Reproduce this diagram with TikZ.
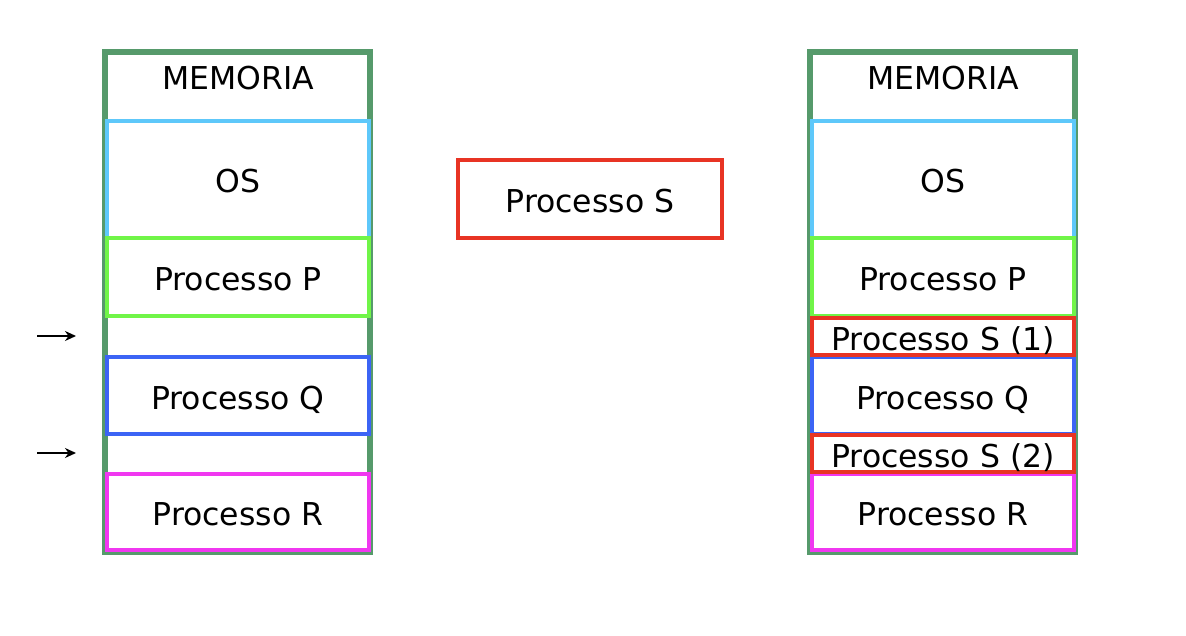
\documentclass[tikz,border=0pt]{standalone}
\usepackage{fontspec}
\setmainfont{DejaVu Sans}
\usetikzlibrary{arrows.meta}
\definecolor{memgreen}{RGB}{86,154,107}
\definecolor{oscyan}{RGB}{94,200,250}
\definecolor{pgreen}{RGB}{112,245,72}
\definecolor{qblue}{RGB}{60,100,245}
\definecolor{rmag}{RGB}{240,55,240}
\definecolor{sred}{RGB}{232,52,36}
\tikzset{
  memframe/.style={draw=memgreen, line width=5.5pt},
  blk/.style={draw=#1, line width=3.4pt, minimum width=262pt, inner sep=0pt, text height=27pt, text depth=0pt, font=\fontsize{31.5}{36}\selectfont},
  lbl/.style={inner sep=0pt, text depth=0pt, font=\fontsize{31.5}{36}\selectfont},
  arr/.style={line width=2.6pt, -{Stealth[length=11pt,width=10pt]}}
}
\begin{document}
\begin{tikzpicture}[x=1pt,y=-1pt]
\useasboundingbox (0,0) rectangle (1186,636);
% left memory
\node[memframe, minimum width=265pt, minimum height=500pt, inner sep=0pt] (mem1) at (237.5,302) {};
\node[lbl] (memtxt1) at (238,78) {MEMORIA};
\node[blk=oscyan, minimum height=117pt] (os1) at (238,179.5) {OS};
\node[blk=pgreen, minimum height=78pt] (p1) at (238,277) {Processo P};
\node[blk=qblue, minimum height=77pt] (q1) at (238,395.5) {Processo Q};
\node[blk=rmag, minimum height=76pt] (r1) at (238,512) {Processo R};
\coordinate (a1s) at (37,336);
\coordinate (a1e) at (76,336);
\coordinate (a2s) at (37,453);
\coordinate (a2e) at (76,453);
\draw[arr] (a1s) -- (a1e);
\draw[arr] (a2s) -- (a2e);
% process S
\node[blk=sred, minimum width=264pt, minimum height=78pt] (s) at (590,199) {Processo S};
% right memory
\node[memframe, minimum width=265pt, minimum height=500pt, inner sep=0pt] (mem2) at (942.5,302) {};
\node[lbl] (memtxt2) at (943,78) {MEMORIA};
\node[blk=oscyan, minimum height=117pt] (os2) at (943,179.5) {OS};
\node[blk=pgreen, minimum height=78pt] (p2) at (943,277) {Processo P};
\node[blk=qblue, minimum height=77pt] (q2) at (943,395.5) {Processo Q};
\node[blk=rmag, minimum height=76pt] (r2) at (943,512) {Processo R};
\node[blk=sred, minimum height=37pt] (s21) at (943,336.5) {Processo S (1)};
\node[blk=sred, minimum height=37pt] (s22) at (943,453.5) {Processo S (2)};
\end{tikzpicture}
\end{document}
